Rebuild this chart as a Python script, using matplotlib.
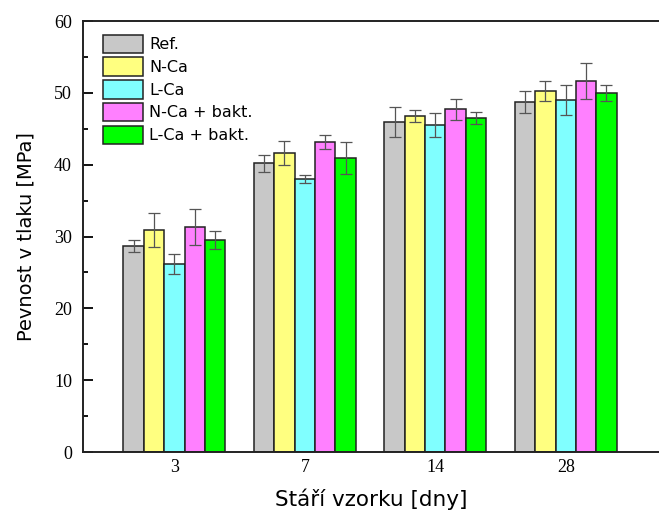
import matplotlib.pyplot as plt
import numpy as np
from matplotlib.ticker import MultipleLocator

days = ["3", "7", "14", "28"]
series = ["Ref.", "N-Ca", "L-Ca", "N-Ca + bakt.", "L-Ca + bakt."]
colors = ["#C8C8C8", "#FFFF80", "#80FFFF", "#FF80FF", "#00FF00"]

ref = [28.7, 40.2, 45.9, 48.7]
nca = [30.9, 41.6, 46.8, 50.3]
lca = [26.2, 38.0, 45.5, 49.0]
nca_b = [31.3, 43.2, 47.7, 51.6]
lca_b = [29.5, 40.9, 46.5, 50.0]

ref_err = [0.85, 1.2, 2.1, 1.5]
nca_err = [2.4, 1.7, 0.8, 1.4]
lca_err = [1.35, 0.55, 1.65, 2.1]
nca_b_err = [2.5, 1.0, 1.5, 2.5]
lca_b_err = [1.2, 2.2, 0.85, 1.15]

values = [ref, nca, lca, nca_b, lca_b]
errors = [ref_err, nca_err, lca_err, nca_b_err, lca_b_err]

fig = plt.figure(figsize=(6.59, 5.25), dpi=100)
ax = fig.add_axes([0.126, 0.139, 0.875, 0.821])

x = np.arange(len(days))
w = 0.156
for i in range(len(series)):
    ax.bar(x + (i - 2) * w, values[i], width=w, color=colors[i],
           edgecolor="#222222", linewidth=1.1, label=series[i],
           yerr=errors[i], ecolor="#555555",
           error_kw=dict(elinewidth=0.9, capsize=4, capthick=0.9))

ax.set_xlim(-0.7, 3.72)
ax.set_ylim(0, 60)
ax.yaxis.set_major_locator(MultipleLocator(10))
ax.yaxis.set_minor_locator(MultipleLocator(5))
ax.set_xticks(x)
ax.set_xticklabels(days, family="Liberation Serif", fontsize=13)
for lab in ax.get_yticklabels():
    lab.set_family("Liberation Serif")
    lab.set_fontsize(13)
ax.tick_params(axis="y", which="major", direction="in", length=7, width=1.3, pad=8)
ax.tick_params(axis="y", which="minor", direction="in", length=3.5, width=1.3)
ax.tick_params(axis="x", length=0, pad=5)
for s in ax.spines.values():
    s.set_linewidth(1.4)
    s.set_color("#222222")

ax.set_ylabel("Pevnost v tlaku [MPa]", fontsize=14, labelpad=13)
ax.set_xlabel("Stáří vzorku [dny]", fontsize=15.5, labelpad=9)

leg = ax.legend(loc="upper left", bbox_to_anchor=(0.012, 0.998), frameon=False,
                fontsize=11.5, handlelength=2.55, handleheight=1.4,
                labelspacing=0.27, handletextpad=0.35, borderpad=0.3)

fig.savefig("out.png", dpi=100)
